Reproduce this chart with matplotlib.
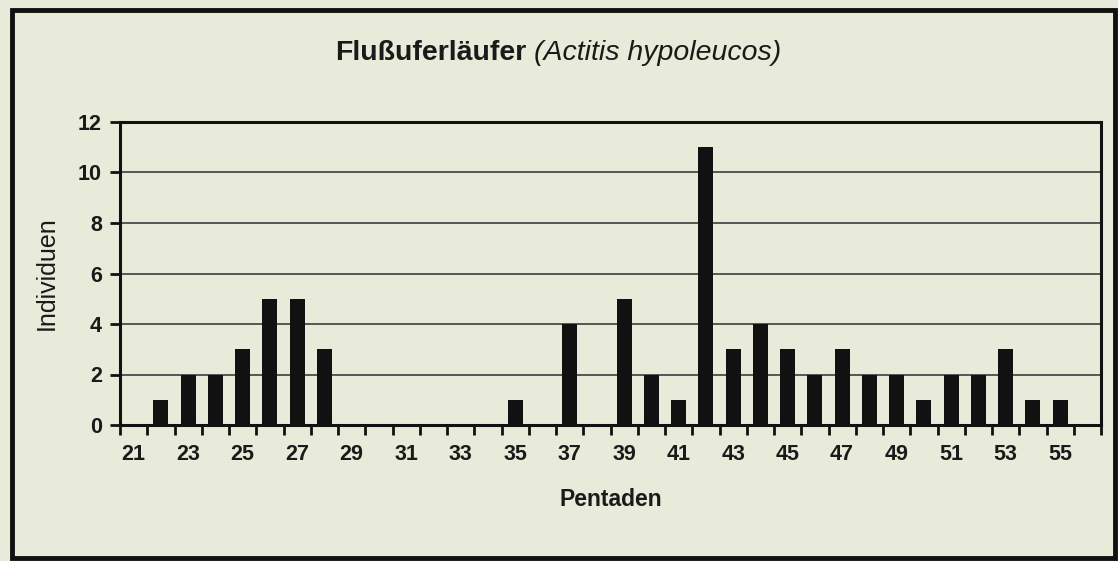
import matplotlib
matplotlib.use("Agg")
import matplotlib.pyplot as plt
from matplotlib.patches import Rectangle

pentaden = list(range(21, 57))
individuen = [0, 1, 2, 2, 3, 5, 5, 3, 0, 0, 0, 0, 0, 0, 1, 0, 4, 0, 5, 2,
              1, 11, 3, 4, 3, 2, 3, 2, 2, 1, 2, 2, 3, 1, 1, 0]
y_ticks = [0, 2, 4, 6, 8, 10, 12]
title_bold = "Flußuferläufer"
title_italic = "(Actitis hypoleucos)"
x_label = "Pentaden"
y_label = "Individuen"

bg = "#e8eada"
plt.rcParams['font.family'] = ['Liberation Sans', 'DejaVu Sans']

W, H = 1118, 561
fig = plt.figure(figsize=(W / 100, H / 100), dpi=100, facecolor=bg)
ax = fig.add_axes([120 / W, 1 - 425 / H, 981 / W, 303 / H])
ax.set_facecolor(bg)

idx = list(range(len(pentaden)))
ax.bar(idx, individuen, width=0.55, color="#111111", zorder=3)

ax.set_xlim(-0.5, len(pentaden) - 0.5)
ax.set_ylim(0, 12)
ax.set_yticks(y_ticks)
ax.set_yticklabels([str(v) for v in y_ticks], fontsize=15.5, fontweight='bold', color="#1a1a1a")
ax.yaxis.grid(True, color="#4a4a4a", linewidth=1.3, zorder=1)
ax.tick_params(axis='y', direction='out', length=7, width=2, pad=6, color="#111111")

# major ticks at category boundaries, labels at odd pentads
ax.set_xticks([i - 0.5 for i in range(len(pentaden) + 1)])
ax.set_xticklabels([])
ax.tick_params(axis='x', which='major', direction='out', length=7, width=2, color="#111111")
lab_idx = [i for i, p in enumerate(pentaden) if p % 2 == 1]
ax.set_xticks(lab_idx, minor=True)
ax.set_xticklabels([str(pentaden[i]) for i in lab_idx], minor=True,
                   fontsize=15.5, fontweight='bold', color="#1a1a1a")
ax.tick_params(axis='x', which='minor', length=0, pad=14)

for s in ax.spines.values():
    s.set_linewidth(2.2)
    s.set_color("#111111")

ax.set_xlabel(x_label, fontsize=16.5, fontweight='bold', labelpad=16, color="#1a1a1a")
ax.set_ylabel(y_label, fontsize=18, labelpad=14, color="#1a1a1a")

# title in two parts
t1 = fig.text(335 / W, 1 - 53 / H, title_bold, fontsize=20.5, fontweight='bold',
              va='center', ha='left', color="#1a1a1a")
fig.canvas.draw()
bb = t1.get_window_extent(renderer=fig.canvas.get_renderer())
fig.text((bb.x1 + 8) / W, 1 - 53 / H, title_italic, fontsize=20.5, style='italic',
         va='center', ha='left', color="#1a1a1a")

# outer frame
fig.patches.append(Rectangle((12 / W, 3 / H), 1103 / W, 548 / H, transform=fig.transFigure,
                             fill=False, edgecolor="#111111", linewidth=3.5))

fig.savefig("out.png", dpi=100, facecolor=bg)
